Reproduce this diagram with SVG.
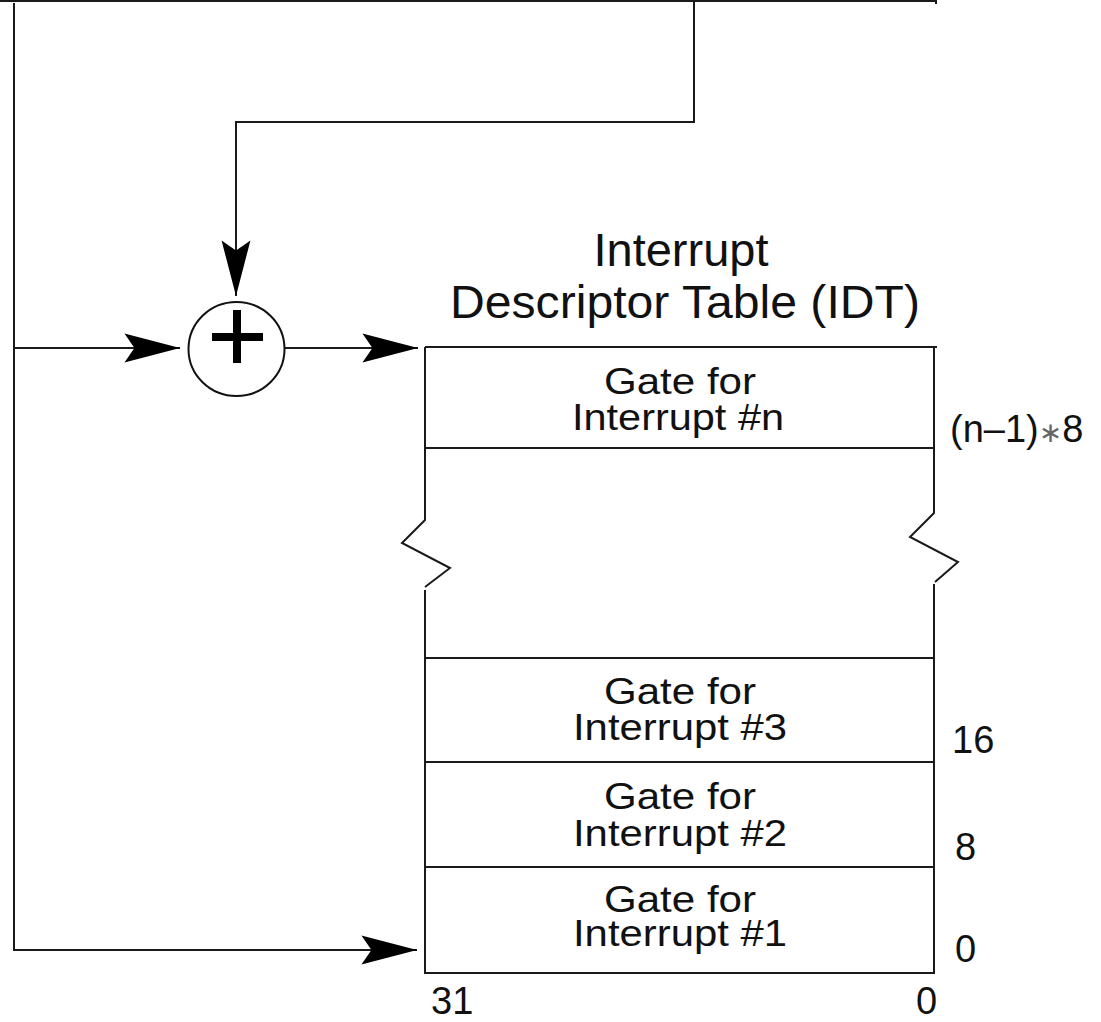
<svg xmlns="http://www.w3.org/2000/svg" width="1101" height="1022" viewBox="0 0 1101 1022">
<style>
.ln{fill:none;stroke:#1a1a1a;stroke-width:2}
.t{font-family:"Liberation Sans",Arial,sans-serif;fill:#111}
.g{font-size:36px;text-anchor:middle}
.n{font-size:38px}
.h{font-size:47px;text-anchor:middle}
</style>
<defs>
<marker id="arr" markerUnits="userSpaceOnUse" markerWidth="60" markerHeight="40" viewBox="-52 -15 54 30" refX="0" refY="0" orient="auto">
<path d="M0,0 L-50,-13 L-41,0 L-50,13 Z" fill="#000"/>
</marker>
</defs>
<rect width="1101" height="1022" fill="#fff"/>
<g id="connectors">
<path class="ln" d="M0,1 H936 V4"/>
<path class="ln" d="M14,3 V950 H417" marker-end="url(#arr)"/>
<path class="ln" d="M14,348 H180" marker-end="url(#arr)"/>
<path class="ln" d="M694,0 V122 H236 V296" marker-end="url(#arr)"/>
<path class="ln" d="M285,348 H418" marker-end="url(#arr)"/>
</g>
<g id="adder">
<ellipse cx="236.5" cy="349" rx="48" ry="47" fill="#fff" stroke="#111" stroke-width="2"/>
<rect x="212" y="333" width="51" height="8" fill="#000"/>
<rect x="233" y="310" width="8" height="53" fill="#000"/>
</g>
<g id="idt-title">
<text class="t h" x="681" y="266">Interrupt</text>
<text class="t h" x="685" y="318" textLength="470" lengthAdjust="spacingAndGlyphs">Descriptor Table (IDT)</text>
</g>
<g id="idt-table">
<path class="ln" d="M425,347 H937"/>
<path class="ln" d="M425,347 V520 L402,543 L450,568 L425,587"/>
<path class="ln" d="M425,590 V973 H934 V584"/>
<path class="ln" d="M934,347 V513 L910,537 L958,562 L935,582"/>
<path class="ln" d="M425,448 H934 M425,658 H934 M425,762 H934 M425,867 H934"/>
</g>
<g id="gate-n">
<text class="t g" x="680" y="394" textLength="152" lengthAdjust="spacingAndGlyphs">Gate for</text>
<text class="t g" x="678" y="430" textLength="212" lengthAdjust="spacingAndGlyphs">Interrupt #n</text>
</g>
<g id="gate-3">
<text class="t g" x="680" y="704" textLength="152" lengthAdjust="spacingAndGlyphs">Gate for</text>
<text class="t g" x="680" y="740" textLength="214" lengthAdjust="spacingAndGlyphs">Interrupt #3</text>
</g>
<g id="gate-2">
<text class="t g" x="680" y="809" textLength="152" lengthAdjust="spacingAndGlyphs">Gate for</text>
<text class="t g" x="680" y="846" textLength="214" lengthAdjust="spacingAndGlyphs">Interrupt #2</text>
</g>
<g id="gate-1">
<text class="t g" x="680" y="912" textLength="152" lengthAdjust="spacingAndGlyphs">Gate for</text>
<text class="t g" x="680" y="946" textLength="214" lengthAdjust="spacingAndGlyphs">Interrupt #1</text>
</g>
<g id="offsets">
<text class="t n" x="950" y="442" font-size="39">(n–1)<tspan fill="#666" font-family="DejaVu Sans,sans-serif" font-size="28">∗</tspan>8</text>
<text class="t n" x="952" y="753">16</text>
<text class="t n" x="955" y="860">8</text>
<text class="t n" x="955" y="962">0</text>
<text class="t n" x="431" y="1014" font-size="37">31</text>
<text class="t n" x="916" y="1014" font-size="37">0</text>
</g>
</svg>
